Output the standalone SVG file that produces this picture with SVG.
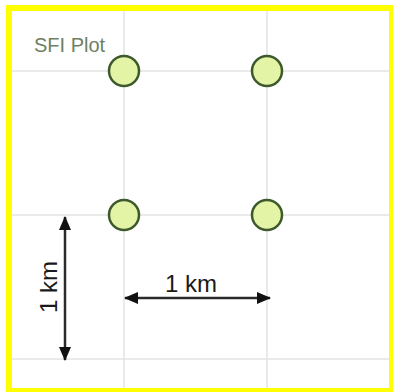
<svg xmlns="http://www.w3.org/2000/svg" width="393" height="392" viewBox="0 0 393 392">
<style>
.grid{stroke:#e3e3e3;stroke-width:1.5;fill:none}
.site{fill:#e3f4a6;stroke:#3e5a2c;stroke-width:2.5}
.dim{stroke:#2a2a2a;stroke-width:2.5;fill:none}
.lbl{font-family:"Liberation Sans",Arial,sans-serif;font-size:24px;fill:#1a1a1a}
.title{font-family:"Liberation Sans",Arial,sans-serif;font-size:20px;fill:#6f7f5f}
</style>
<defs>
<marker id="ah" viewBox="0 0 14 12" refX="13" refY="6" markerWidth="14" markerHeight="12" markerUnits="userSpaceOnUse" orient="auto-start-reverse">
<path d="M0,0 L14,6 L0,12 Z" fill="#111"/>
</marker>
</defs>
<rect x="9" y="8" width="383" height="383" fill="#ffffff" stroke="#ffff00" stroke-width="6"/>
<g id="grid">
<line class="grid" x1="124" y1="11" x2="124" y2="388"/>
<line class="grid" x1="267" y1="11" x2="267" y2="388"/>
<line class="grid" x1="12" y1="71" x2="389" y2="71"/>
<line class="grid" x1="12" y1="215" x2="389" y2="215"/>
<line class="grid" x1="12" y1="359" x2="389" y2="359"/>
</g>
<text id="title" class="title" x="34" y="52">SFI Plot</text>
<g id="site1"><circle class="site" cx="124" cy="71" r="15"/></g>
<g id="site2"><circle class="site" cx="267" cy="71" r="15"/></g>
<g id="site3"><circle class="site" cx="124" cy="215" r="15"/></g>
<g id="site4"><circle class="site" cx="267" cy="215" r="15"/></g>
<g id="connectors">
<line class="dim" x1="65" y1="217" x2="65" y2="360" marker-start="url(#ah)" marker-end="url(#ah)"/>
<line class="dim" x1="125" y1="298" x2="270" y2="298" marker-start="url(#ah)" marker-end="url(#ah)"/>
</g>
<g id="labels">
<text class="lbl" x="0" y="0" text-anchor="middle" transform="translate(57,287) rotate(-90)">1 km</text>
<text class="lbl" x="191" y="292" text-anchor="middle">1 km</text>
</g>
</svg>
